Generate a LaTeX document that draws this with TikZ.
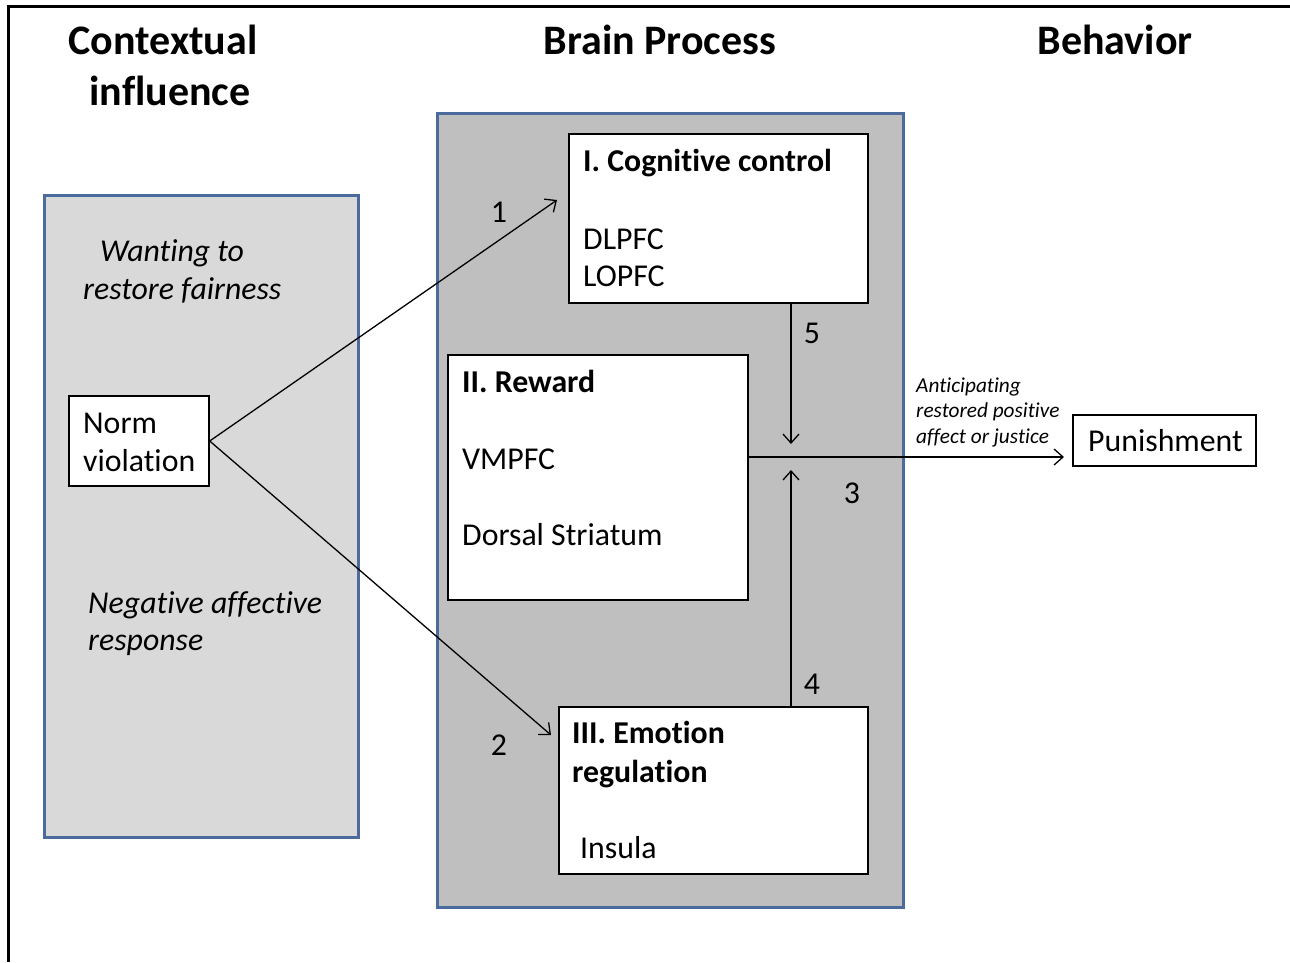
\documentclass[tikz,border=0pt]{standalone}
\usepackage{fontspec}
\setmainfont{Carlito}[Ligatures={NoCommon,NoContextual,NoRare}, RawFeature={-calt}]
\usetikzlibrary{arrows.meta}
\definecolor{edgeblue}{RGB}{74,107,155}
\definecolor{lightpanel}{RGB}{217,217,217}
\definecolor{darkpanel}{RGB}{191,191,191}
\begin{document}
\begin{tikzpicture}[x=1pt, y=-1pt,
  panel/.style={draw=edgeblue, line width=3pt, inner sep=0pt},
  whitebox/.style={draw, fill=white, line width=1.4pt, inner sep=0pt},
  txt/.style={anchor=base west, inner sep=0pt, font=\fontsize{31.8}{38}\selectfont},
  hdr/.style={anchor=base, inner sep=0pt, font=\fontsize{42}{50}\selectfont\bfseries},
  num/.style={anchor=base, inner sep=0pt, font=\fontsize{31.8}{38}\selectfont},
  small/.style={anchor=base west, inner sep=0pt, font=\fontsize{21.3}{25}\selectfont\itshape},
  arr/.style={line width=1.3pt, -{Straight Barb[length=9pt, width=16pt]}}]
\useasboundingbox (0,0) rectangle (1290,962);
\draw[line width=3pt] (8,962) -- (8,6) -- (1290,6);

\node[hdr] (hctx) at (163,54) {Contextual};
\node[hdr] (hinf) at (170,105) {influence};
\node[hdr] (hbrain) at (660,54) {Brain Process};
\node[hdr] (hbeh) at (1115,54) {Behavior};

\node[panel, fill=lightpanel, minimum width=314pt, minimum height=642pt] (ctx) at (201,516) {};
\node[panel, fill=darkpanel, minimum width=466pt, minimum height=794pt] (brain) at (670,510) {};

\node[txt, font=\fontsize{31.8}{38}\selectfont\itshape] (want1) at (100,261) {Wanting to};
\node[txt, font=\fontsize{31.8}{38}\selectfont\itshape] (want2) at (83,299) {restore fairness};
\node[txt, font=\fontsize{31.8}{38}\selectfont\itshape] (neg1) at (88,613) {Negative affective};
\node[txt, font=\fontsize{31.8}{38}\selectfont\itshape] (neg2) at (88,650) {response};

\node[whitebox, minimum width=140pt, minimum height=90pt] (norm) at (139,441) {};
\node[txt] (norm1) at (83,433) {Norm};
\node[txt] (norm2) at (83,471) {violation};

\node[whitebox, minimum width=299pt, minimum height=169pt] (cog) at (718.5,218.5) {};
\node[txt, font=\fontsize{31.8}{38}\selectfont\bfseries] (cogt) at (583,171) {I. Cognitive control};
\node[txt] (dlpfc) at (583,249) {DLPFC};
\node[txt] (lopfc) at (583,286) {LOPFC};

\node[whitebox, minimum width=300pt, minimum height=245pt] (rew) at (598,477.5) {};
\node[txt, font=\fontsize{31.8}{38}\selectfont\bfseries] (rewt) at (462,392) {II. Reward};
\node[txt] (vmpfc) at (462,469) {VMPFC};
\node[txt] (dstr) at (462,545) {Dorsal Striatum};

\node[whitebox, minimum width=309pt, minimum height=167pt] (emo) at (713.5,790.5) {};
\node[txt, font=\fontsize{31.8}{38}\selectfont\bfseries] (emot1) at (572,743) {III. Emotion};
\node[txt, font=\fontsize{31.8}{38}\selectfont\bfseries] (emot2) at (572,782) {regulation};
\node[txt] (insula) at (580,858) {Insula};

\node[whitebox, minimum width=183pt, minimum height=51pt] (pun) at (1164.5,440.5) {};
\node[txt] (punt) at (1088,451) {Punishment};

\node[small] (ant1) at (916,392) {Anticipating};
\node[small] (ant2) at (916,417) {restored positive};
\node[small] (ant3) at (916,443) {affect or justice};

\coordinate (tip1) at (557,200);
\coordinate (tip2) at (551,735);
\coordinate (tip5) at (791,444);
\coordinate (tip4) at (791,470);
\coordinate (tip3) at (1064,457);

\draw[arr] (norm.east) -- (tip1);
\draw[arr] (norm.east) -- (tip2);
\draw[arr] (cog.south -| tip5) -- (tip5);
\draw[arr] (emo.north -| tip4) -- (tip4);
\draw[arr] (rew.east |- tip3) -- (tip3);

\node[num] (n1) at (499,222) {1};
\node[num] (n2) at (499,755) {2};
\node[num] (n3) at (852,503) {3};
\node[num] (n4) at (812,694) {4};
\node[num] (n5) at (812,343) {5};
\end{tikzpicture}
\end{document}
